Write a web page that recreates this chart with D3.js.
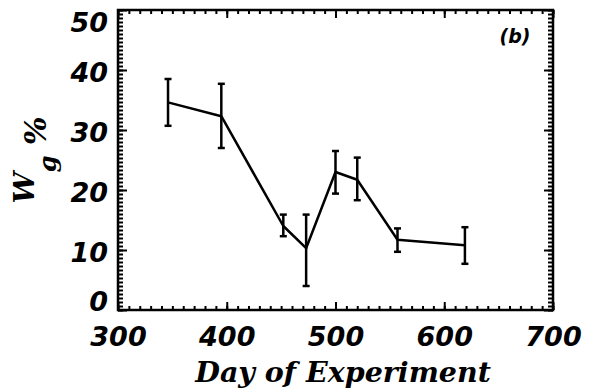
<!DOCTYPE html>
<html>
<head>
<meta charset="utf-8">
<script src="https://cdn.jsdelivr.net/npm/d3@7"></script>
<style>
  body { margin: 0; background: #fff; }
  .domain { display: none; }
</style>
</head>
<body>
<div id="plot"></div>
<script>
const margin = { top: 10, right: 39, bottom: 82, left: 118 },
      width = 592 - margin.left - margin.right,
      height = 392 - margin.top - margin.bottom;

// Data
const days = [346, 395, 452, 473, 500, 520, 557, 619];
const wg = [34.6, 32.3, 14.0, 10.3, 23.0, 21.7, 11.7, 10.8];
const wgLow = [30.7, 27.0, 12.3, 4.0, 19.4, 18.3, 9.7, 7.7];
const wgHigh = [38.5, 37.7, 15.9, 15.9, 26.5, 25.4, 13.6, 13.8];
const xTicks = [300, 400, 500, 600, 700];
const yTicks = [0, 10, 20, 30, 40, 50];

const data = days.map((d, i) => ({ day: d, wg: wg[i], lo: wgLow[i], hi: wgHigh[i] }));

const svg = d3.select("#plot")
  .append("svg")
    .attr("width", width + margin.left + margin.right)
    .attr("height", height + margin.top + margin.bottom)
  .append("g")
    .attr("transform", `translate(${margin.left},${margin.top})`);

const x = d3.scaleLinear().domain([300, 700]).range([0, width]);
const y = d3.scaleLinear().domain([0, 50]).range([height, 0]);

const xMinor = d3.range(300, 701, 10);
const yMinor = d3.range(0, 50.01, 2 / 3);

// minor ticks (all four sides, pointing in)
svg.append("g").attr("transform", `translate(0,${height})`)
  .call(d3.axisBottom(x).tickValues(xMinor).tickSize(-4).tickFormat(""));
svg.append("g")
  .call(d3.axisTop(x).tickValues(xMinor).tickSize(-4).tickFormat(""));
svg.append("g")
  .call(d3.axisLeft(y).tickValues(yMinor).tickSize(-5).tickFormat(""));
svg.append("g").attr("transform", `translate(${width},0)`)
  .call(d3.axisRight(y).tickValues(yMinor).tickSize(-5).tickFormat(""));

// major ticks
svg.append("g").attr("transform", `translate(0,${height})`)
  .attr("class", "x-axis")
  .call(d3.axisBottom(x).tickValues(xTicks).tickSize(-8).tickPadding(17));
svg.append("g")
  .call(d3.axisTop(x).tickValues(xTicks).tickSize(-8).tickFormat(""));
svg.append("g")
  .attr("class", "y-axis")
  .call(d3.axisLeft(y).tickValues(yTicks).tickSize(-9).tickPadding(10));
svg.append("g").attr("transform", `translate(${width},0)`)
  .call(d3.axisRight(y).tickValues(yTicks).tickSize(-9).tickFormat(""));

svg.selectAll(".tick line").attr("stroke", "#000").attr("stroke-width", 2);

svg.selectAll(".x-axis text, .y-axis text")
  .style("font-family", "DejaVu Sans")
  .style("font-weight", "bold")
  .style("font-style", "italic")
  .style("font-size", "27px")
  .attr("fill", "#000");

// keep end labels inside the frame, as in the original
svg.selectAll(".y-axis .tick text")
  .attr("dy", d => d === 50 ? "0.8em" : d === 0 ? "0.02em" : "0.42em");

// frame
svg.append("rect")
  .attr("width", width).attr("height", height)
  .attr("fill", "none").attr("stroke", "#000").attr("stroke-width", 2.5);

// line
svg.append("path")
  .datum(data)
  .attr("fill", "none")
  .attr("stroke", "#000")
  .attr("stroke-width", 2.5)
  .attr("stroke-linejoin", "round")
  .attr("d", d3.line().x(d => x(d.day)).y(d => y(d.wg)));

// error bars
const eb = svg.selectAll(".err").data(data).join("g").attr("class", "err")
  .attr("stroke", "#000").attr("stroke-width", 2.5);
eb.append("line")
  .attr("x1", d => x(d.day)).attr("x2", d => x(d.day))
  .attr("y1", d => y(d.lo)).attr("y2", d => y(d.hi));
eb.append("line")
  .attr("x1", d => x(d.day) - 3.5).attr("x2", d => x(d.day) + 3.5)
  .attr("y1", d => y(d.lo)).attr("y2", d => y(d.lo));
eb.append("line")
  .attr("x1", d => x(d.day) - 3.5).attr("x2", d => x(d.day) + 3.5)
  .attr("y1", d => y(d.hi)).attr("y2", d => y(d.hi));

// panel label
svg.append("text")
  .attr("x", width - 38).attr("y", 33)
  .attr("text-anchor", "middle")
  .style("font-family", "DejaVu Sans")
  .style("font-weight", "bold")
  .style("font-style", "italic")
  .style("font-size", "19px")
  .text("(b)");

// x title
svg.append("text")
  .attr("x", 343 - margin.left).attr("y", 382 - margin.top)
  .attr("text-anchor", "middle")
  .style("font-family", "DejaVu Serif")
  .style("font-weight", "bold")
  .style("font-style", "italic")
  .style("font-size", "28.5px")
  .text("Day of Experiment");

// y title
const yt = svg.append("text")
  .attr("transform", `translate(${34 - margin.left},${160 - margin.top}) rotate(-90)`)
  .attr("text-anchor", "middle")
  .style("font-family", "DejaVu Serif")
  .style("font-weight", "bold")
  .style("font-style", "italic");
yt.append("tspan").style("font-size", "28px").text("W");
yt.append("tspan").style("font-size", "24px").attr("dy", 22).text("g");
yt.append("tspan").style("font-size", "30px").attr("dy", -10).text(" %");
</script>
</body>
</html>
